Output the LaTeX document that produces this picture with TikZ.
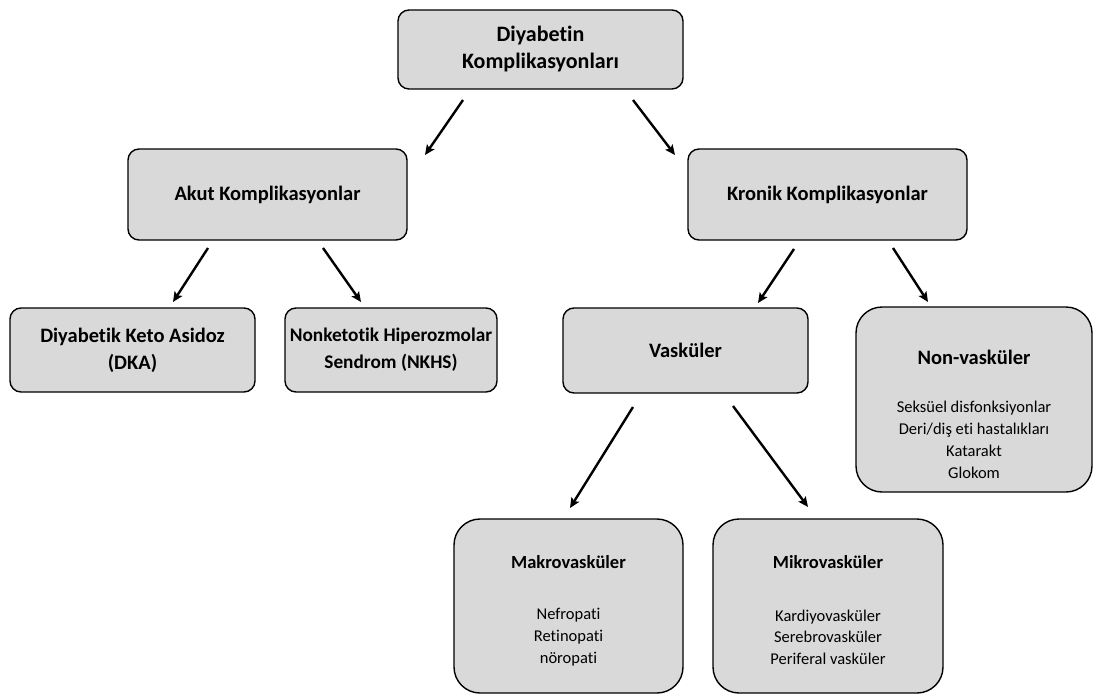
\documentclass[tikz,border=0pt]{standalone}
\usepackage{fontspec}
\setmainfont{Carlito}[Ligatures=NoCommon]
\usetikzlibrary{arrows.meta}
\definecolor{boxgray}{HTML}{D9D9D9}
\tikzset{
  box/.style={draw=black, line width=1.4pt, fill=boxgray, rounded corners=11pt, inner sep=0pt, align=center},
  bigbox/.style={box, rounded corners=26pt},
  head/.style={font=\bfseries\fontsize{20.5}{27}\selectfont, align=center},
  sub/.style={font=\bfseries\fontsize{18.5}{22}\selectfont, align=center, inner sep=0pt},
  items/.style={font=\fontsize{16.5}{21.7}\selectfont, align=center, inner sep=0pt},
  arr/.style={line width=2.4pt, -{Stealth[length=10pt,width=9pt,inset=2pt]}}
}
\begin{document}
\begin{tikzpicture}[x=1pt,y=-1pt]
\useasboundingbox (0,0) rectangle (1094,696);
% level boxes
\node[box, minimum width=285pt, minimum height=79pt, head, font=\bfseries\fontsize{22}{27}\selectfont] (top) at (540.5,49.5) {Diyabetin\\Komplikasyonları};
\node[box, minimum width=279pt, minimum height=91pt, head] (akut) at (267.5,194.5) {Akut Komplikasyonlar};
\node[box, minimum width=279pt, minimum height=91pt, head] (kronik) at (827.5,194.5) {Kronik Komplikasyonlar};
\node[box, minimum width=245pt, minimum height=84pt, head] (dka) at (132.5,350) {Diyabetik Keto Asidoz\\(DKA)};
\node[box, minimum width=212pt, minimum height=84pt, head, font=\bfseries\fontsize{19.3}{27}\selectfont] (nkhs) at (391,350) {Nonketotik Hiperozmolar\\Sendrom (NKHS)};
\node[box, minimum width=245pt, minimum height=85pt, head] (vask) at (685.5,350.5) {Vasküler};
\node[bigbox, minimum width=236pt, minimum height=185pt] (nonv) at (974,399.5) {};
\node[head, inner sep=0pt] (nonvT) at ([yshift=-51pt]nonv.north) {Non-vasküler};
\node[items, anchor=center] (nonvL) at ([yshift=-133.5pt]nonv.north) {Seksüel disfonksiyonlar\\Deri/diş eti hastalıkları\\Katarakt\\Glokom};
\node[bigbox, minimum width=229pt, minimum height=174pt] (makro) at (568.5,606) {};
\node[sub] (makroT) at ([yshift=-44pt]makro.north) {Makrovasküler};
\node[items] (makroL) at ([yshift=-119pt]makro.north) {Nefropati\\Retinopati\\nöropati};
\node[bigbox, minimum width=230pt, minimum height=174pt] (mikro) at (828,606) {};
\node[sub] (mikroT) at ([yshift=-44pt]mikro.north) {Mikrovasküler};
\node[items] (mikroL) at ([yshift=-119pt]mikro.north) {Kardiyovasküler\\Serebrovasküler\\Periferal vasküler};
% arrow end points
\coordinate (a1s) at (463,100); \coordinate (a1e) at (425,155);
\coordinate (a2s) at (633,100); \coordinate (a2e) at (675,155);
\coordinate (a3s) at (208,248); \coordinate (a3e) at (173,302);
\coordinate (a4s) at (323,248); \coordinate (a4e) at (361,302);
\coordinate (a5s) at (794,249); \coordinate (a5e) at (758,303);
\coordinate (a6s) at (893,248); \coordinate (a6e) at (928,302);
\coordinate (a7s) at (633,407); \coordinate (a7e) at (570,508);
\coordinate (a8s) at (733,406); \coordinate (a8e) at (808,507);
\draw[arr] (a1s) -- (a1e);
\draw[arr] (a2s) -- (a2e);
\draw[arr] (a3s) -- (a3e);
\draw[arr] (a4s) -- (a4e);
\draw[arr] (a5s) -- (a5e);
\draw[arr] (a6s) -- (a6e);
\draw[arr] (a7s) -- (a7e);
\draw[arr] (a8s) -- (a8e);
\end{tikzpicture}
\end{document}
